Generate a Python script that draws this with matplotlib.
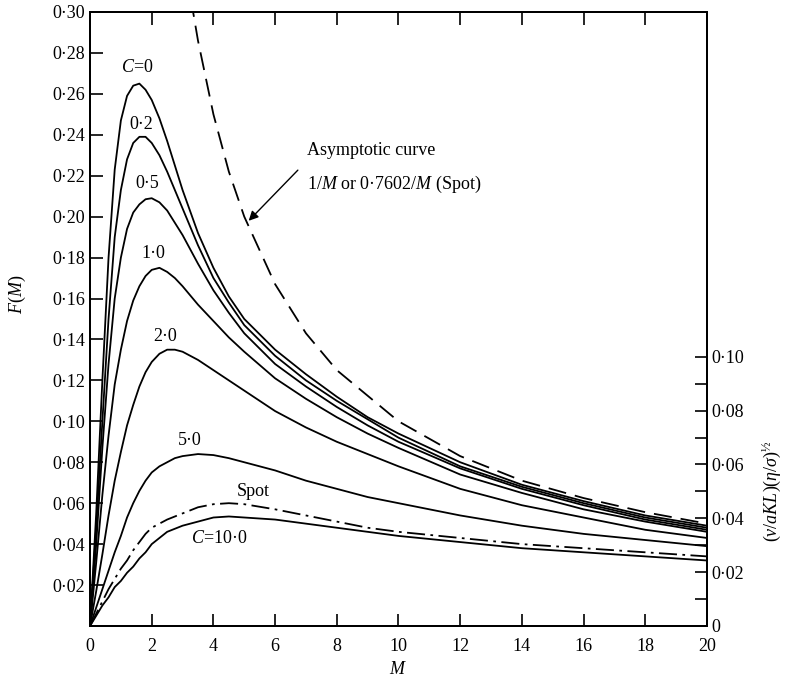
import matplotlib
matplotlib.use("Agg")
import matplotlib.pyplot as plt
from matplotlib.ticker import FuncFormatter

plt.rcParams["font.family"] = ["Liberation Serif", "DejaVu Serif"]
plt.rcParams["mathtext.fontset"] = "custom"
plt.rcParams["mathtext.rm"] = "Liberation Serif"
plt.rcParams["mathtext.it"] = "Liberation Serif:italic"

m_vals = [0, 0.2, 0.4, 0.6, 0.8, 1.0, 1.2, 1.4, 1.6, 1.8, 2.0, 2.25, 2.5, 2.75, 3.0, 3.5,
          4, 4.5, 5, 6, 7, 8, 9, 10, 12, 14, 16, 18, 20]

f_c0 = [0, 0.055, 0.120, 0.180, 0.223, 0.247, 0.259, 0.264, 0.265, 0.262, 0.257, 0.248, 0.237, 0.225, 0.213, 0.192,
        0.175, 0.161, 0.150, 0.135, 0.123, 0.112, 0.102, 0.094, 0.080, 0.069, 0.061, 0.054, 0.049]
f_c02 = [0, 0.048, 0.100, 0.150, 0.190, 0.213, 0.228, 0.236, 0.239, 0.239, 0.236, 0.230, 0.222, 0.213, 0.204, 0.186,
         0.170, 0.158, 0.147, 0.132, 0.120, 0.110, 0.101, 0.092, 0.078, 0.068, 0.060, 0.053, 0.048]
f_c05 = [0, 0.040, 0.087, 0.128, 0.160, 0.180, 0.194, 0.202, 0.206, 0.2085, 0.209, 0.207, 0.203, 0.197, 0.191, 0.177,
         0.164, 0.153, 0.143, 0.128, 0.117, 0.107, 0.098, 0.090, 0.077, 0.067, 0.059, 0.052, 0.047]
f_c1 = [0, 0.031, 0.064, 0.093, 0.118, 0.135, 0.149, 0.159, 0.166, 0.171, 0.174, 0.175, 0.173, 0.170, 0.166, 0.157,
        0.149, 0.141, 0.134, 0.121, 0.111, 0.102, 0.094, 0.087, 0.074, 0.065, 0.057, 0.051, 0.046]
f_c2 = [0, 0.017, 0.035, 0.054, 0.071, 0.085, 0.098, 0.108, 0.117, 0.124, 0.129, 0.133, 0.135, 0.135, 0.134, 0.130,
        0.125, 0.120, 0.115, 0.105, 0.097, 0.090, 0.084, 0.078, 0.067, 0.059, 0.053, 0.047, 0.043]
f_c5 = [0, 0.009, 0.018, 0.027, 0.036, 0.044, 0.053, 0.060, 0.066, 0.071, 0.075, 0.078, 0.080, 0.082, 0.083, 0.084,
        0.0835, 0.082, 0.080, 0.076, 0.071, 0.067, 0.063, 0.060, 0.054, 0.049, 0.045, 0.042, 0.039]
f_spot = [0, 0.006, 0.012, 0.018, 0.023, 0.028, 0.032, 0.037, 0.041, 0.045, 0.048, 0.050, 0.052, 0.0535, 0.055, 0.058,
          0.0595, 0.060, 0.0595, 0.057, 0.054, 0.051, 0.048, 0.046, 0.043, 0.040, 0.038, 0.036, 0.034]
f_c10 = [0, 0.005, 0.010, 0.014, 0.019, 0.022, 0.026, 0.029, 0.033, 0.036, 0.040, 0.043, 0.046, 0.0475, 0.049, 0.051,
         0.053, 0.0535, 0.053, 0.052, 0.050, 0.048, 0.046, 0.044, 0.041, 0.038, 0.036, 0.034, 0.032]

# asymptotic curve (dashed)
m_asym = [3.2, 3.5, 4, 4.5, 5, 6, 7, 8, 10, 12, 14, 16, 18, 20]
f_asym = [0.3125, 0.286, 0.250, 0.222, 0.200, 0.167, 0.143, 0.125, 0.100, 0.083, 0.071, 0.0625, 0.0556, 0.050]

curve_labels = ["$C$=0", "0·2", "0·5", "1·0", "2·0", "5·0", "Spot", "$C$=10·0"]
label_pos = [(1.53, 0.273), (1.66, 0.245), (1.84, 0.216), (2.05, 0.182), (2.43, 0.1415), (3.24, 0.0905), (5.28, 0.0655), (4.2, 0.0425)]

fig = plt.figure(figsize=(7.87, 6.81), dpi=100)
ax = fig.add_axes([0.1144, 0.0808, 0.7839, 0.9016])

lw = 1.3
for f in [f_c0, f_c02, f_c05, f_c1, f_c2, f_c5, f_c10]:
    ax.plot(m_vals, f, color="black", lw=lw)
ax.plot(m_vals, f_spot, color="black", lw=lw, dashes=[10, 3, 1.5, 3])
ax.plot(m_asym, f_asym, color="black", lw=lw, dashes=[10, 5])

for txt, (x, y) in zip(curve_labels, label_pos):
    ax.text(x, y, txt, fontsize=13, ha="center", va="center")

ax.annotate("", xy=(5.08, 0.197), xytext=(6.8, 0.2237),
            arrowprops=dict(arrowstyle="-|>", color="black", lw=1.0, mutation_scale=14))
ax.text(7.03, 0.2325, "Asymptotic curve", fontsize=13, ha="left", va="center")
ax.text(7.03, 0.2155, "1/$M$ or 0·7602/$M$ (Spot)", fontsize=13, ha="left", va="center")

ax.set_xlim(0, 20)
ax.set_ylim(0, 0.30)
ax.set_xticks(range(0, 21, 2))
ax.set_yticks([0.02 * i for i in range(1, 16)])
ax.yaxis.set_major_formatter(FuncFormatter(lambda v, p: f"{v:.2f}".replace(".", "·")))
ax.tick_params(direction="in", length=9, width=1.2, top=True, right=False, labelsize=13)
ax.tick_params(axis="x", pad=9)
ax.set_xlabel("$M$", fontsize=13, labelpad=4)
ax.set_ylabel("$F$($M$)", fontsize=13)
ax.yaxis.set_label_coords(-0.1, 0.54)
for s in ax.spines.values():
    s.set_linewidth(1.4)

# right-hand scale: (v/aKL)(eta/sigma)^1/2 = 0.7602 F
ax2 = ax.twinx()
ax2.set_ylim(0, 0.30 * 0.7602)
ax2.set_yticks([0, 0.02, 0.04, 0.06, 0.08, 0.10])
ax2.set_yticks([0.01, 0.03, 0.05, 0.07, 0.09], minor=True)
ax2.yaxis.set_major_formatter(FuncFormatter(lambda v, p: "0" if v == 0 else f"{v:.2f}".replace(".", "·")))
ax2.tick_params(which="both", direction="in", length=9, width=1.2, labelsize=13)
ax2.set_ylabel("$(v/aKL)(\\eta/\\sigma)^{½}$", fontsize=13)
ax2.yaxis.set_label_coords(1.087, 0.22)
for s in ax2.spines.values():
    s.set_linewidth(1.4)

fig.savefig("out.png", dpi=100)
